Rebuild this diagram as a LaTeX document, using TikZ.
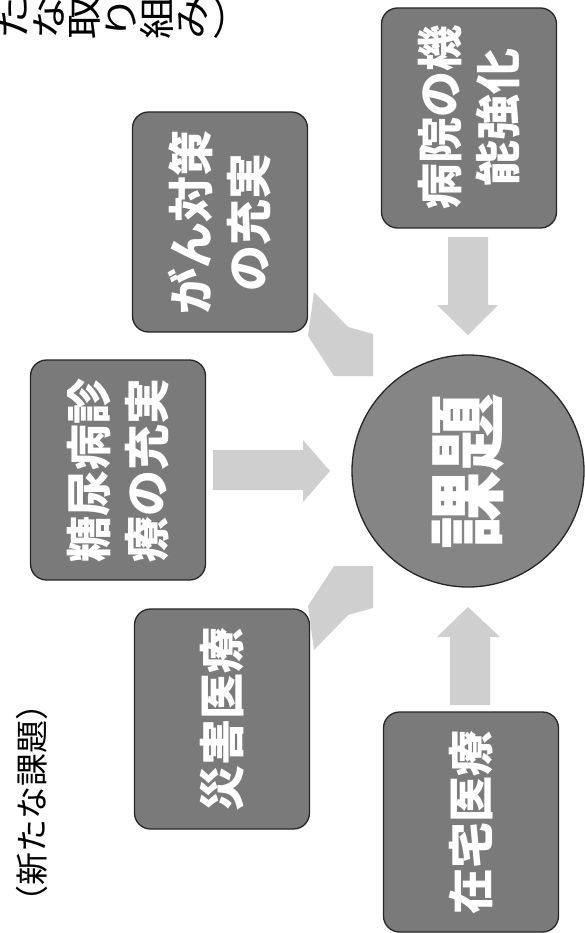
\documentclass[tikz,border=0pt]{standalone}
\usepackage{fontspec}
\newfontfamily\jp{Noto Sans CJK JP}
\newfontfamily\jpwide[FakeStretch=1.2]{Noto Sans CJK JP}
\begin{document}
\begin{tikzpicture}[x=1pt,y=-1pt,
  taskbox/.style={rotate=90, draw=black!85, line width=1.3pt, fill=black!52,
    rounded corners=16pt, minimum width=220pt, minimum height=175pt,
    inner sep=0pt, align=center, text=white,
    font=\jp\bfseries\fontsize{46}{58}\selectfont},
  hub/.style={circle, draw=black!85, line width=1.3pt, fill=black!48,
    minimum size=232pt, inner sep=0pt, rotate=90, text=white,
    font=\jp\bfseries\fontsize{78}{78}\selectfont},
  blockarrow/.style={fill=black!19, draw=none},
  titletext/.style={rotate=90, inner sep=0pt, text=black}
]
\useasboundingbox (0,0) rectangle (585,933);
\clip (0,0) rectangle (585,933);

% cut-off title at the top (vertical text, turned with the page)
\foreach \c [count=\i] in {︵,新,た,な,取,り,組,み,︶}
  \node[titletext, font=\jpwide\fontsize{36}{36}\selectfont] (tt\i) at ({-95+36*\i},18) {\c};
\node[titletext, font=\jp\fontsize{33}{33}\selectfont] (lefttitle) at (32,803) {（新たな課題）};

% boxes
\node[taskbox] (byoin) at (469,118) {病院の機\\能強化};
\node[taskbox] (gan) at (220,222) {がん対策\\の充実};
\node[taskbox] (tonyo) at (118,470) {糖尿病診\\療の充実};
\node[taskbox] (saigai) at (222,719) {災害医療};
\node[taskbox] (zaitaku) at (471,822) {在宅医療};

% hub
\node[hub] (kadai) at (468,471) {課題};

% block arrows
\coordinate (dtip) at (468,335);
\fill[blockarrow] (448,237) -- (488,237) -- (488,305) -- (498,305) -- (dtip)
  -- (437,305) -- (448,305) -- cycle;
\coordinate (utip) at (468,607);
\fill[blockarrow] (450,705) -- (490,705) -- (490,637) -- (500,637) -- (utip)
  -- (437,637) -- (450,637) -- cycle;
\coordinate (rtip) at (330,471);
\fill[blockarrow] (213,450) -- (303,450) -- (303,440) -- (rtip)
  -- (303,502) -- (303,490) -- (213,490) -- cycle;
\fill[blockarrow] (314,292) -- (348,327) -- (373,334) -- (373,376)
  -- (334,376) -- (308,336) -- cycle;
\fill[blockarrow] (314,650) -- (348,615) -- (373,608) -- (373,566)
  -- (334,566) -- (308,606) -- cycle;
\end{tikzpicture}
\end{document}
